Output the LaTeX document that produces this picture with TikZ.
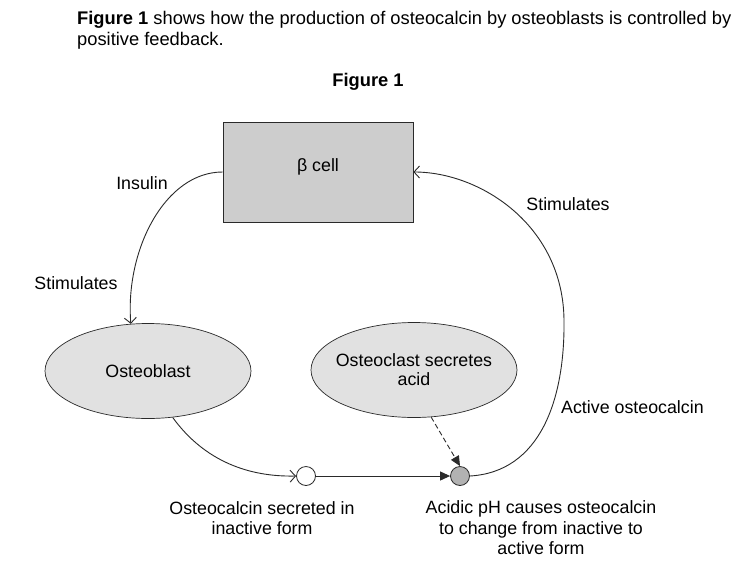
\documentclass[tikz,border=0pt]{standalone}
\usepackage{fontspec}
\setmainfont{Liberation Sans}
\usetikzlibrary{arrows.meta,shapes.geometric}
\definecolor{lineC}{HTML}{2A2A2A}
\definecolor{rectC}{HTML}{CDCDCD}
\definecolor{ellC}{HTML}{E1E1E1}
\definecolor{dotC}{HTML}{B2B2B2}
\tikzset{
  lab/.style={font=\fontsize{17.8}{20.5}\selectfont, inner sep=0pt, align=center},
  hdr/.style={font=\fontsize{18.3}{20.5}\selectfont, inner sep=0pt, anchor=west},
  cellbox/.style={draw=lineC, fill=rectC, minimum width=190pt, minimum height=100pt, inner sep=0pt, line width=0.8pt},
  oval/.style={ellipse, draw=lineC, fill=ellC, minimum width=206pt, minimum height=95pt, inner xsep=-14pt, inner ysep=0pt, line width=0.7pt, align=center, font=\fontsize{17.8}{19}\selectfont},
  dot/.style={circle, draw=lineC, minimum size=19pt, inner sep=0pt, line width=0.8pt},
  conn/.style={draw=lineC, line width=0.9pt},
  openarrow/.style={conn, -{Straight Barb[length=5.5pt,width=12pt,line width=0.9pt]}},
  fillarrow/.style={conn, -{Triangle[length=10pt,width=9pt]}}
}
\begin{document}
\begin{tikzpicture}[x=1pt,y=-1pt]
\useasboundingbox (0,0) rectangle (743,570);
\fill[white] (0,0) rectangle (743,570);
% header
\node[hdr] (h1) at (77,20) {\textbf{Figure 1} shows how the production of osteocalcin by osteoblasts is controlled by};
\node[hdr] (h2) at (77,41) {positive feedback.};
\node[lab, font=\fontsize{18.3}{20.5}\selectfont] (fig) at (368,82) {\textbf{Figure 1}};
% shapes
\node[cellbox] (beta) at (318,172) {};
\node[lab] (betal) at (318,167) {β cell};
\node[oval] (ob) at (148,371) {Osteoblast};
\node[oval] (oc) at (414,370) {Osteoclast secretes\\acid};
\node[dot, fill=white] (inact) at (306,476) {};
\node[dot, fill=dotC] (act) at (460,476) {};
% connectors
\draw[openarrow] (beta.west) .. controls (165,172) and (125,250) .. (ob.110);
\draw[openarrow] (ob.-62) .. controls (205,462) and (250,477) .. (inact.west);
\draw[fillarrow] (inact.east) -- (act.west);
\draw[fillarrow, dashed, dash pattern=on 5pt off 3pt] (oc.-70) -- (act.north);
\draw[openarrow] (act.east) .. controls (540,472) and (565,400) .. (564,320) .. controls (563,225) and (480,172) .. (beta.east);
% labels
\node[lab] (ins) at (142,183) {Insulin};
\node[lab] (st1) at (76,283) {Stimulates};
\node[lab] (st2) at (568,204) {Stimulates};
\node[lab, anchor=west] (aoc) at (561,407) {Active osteocalcin};
\node[lab] (osi) at (262,518) {Osteocalcin secreted in\\inactive form};
\node[lab] (aph) at (541,528) {Acidic pH causes osteocalcin\\to change from inactive to\\active form};
\end{tikzpicture}
\end{document}
